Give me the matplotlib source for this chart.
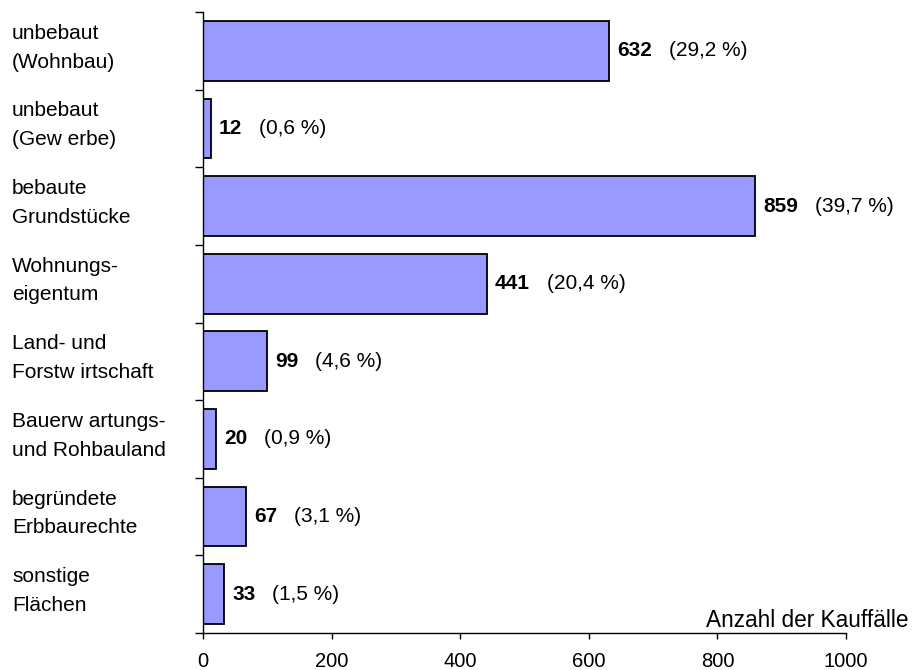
import matplotlib
matplotlib.use("Agg")
import matplotlib.pyplot as plt
import matplotlib.transforms as mtransforms

plt.rcParams['font.family'] = ['Liberation Sans', 'DejaVu Sans']

categories = ["unbebaut\n(Wohnbau)", "unbebaut\n(Gew erbe)", "bebaute\nGrundstücke",
              "Wohnungs-\neigentum", "Land- und\nForstw irtschaft", "Bauerw artungs-\nund Rohbauland",
              "begründete\nErbbaurechte", "sonstige\nFlächen"]
values = [632, 12, 859, 441, 99, 20, 67, 33]
percent_labels = ["(29,2 %)", "(0,6 %)", "(39,7 %)", "(20,4 %)", "(4,6 %)", "(0,9 %)", "(3,1 %)", "(1,5 %)"]
xticks = [0, 200, 400, 600, 800, 1000]

fig = plt.figure(figsize=(9.13, 6.7), dpi=100)
ax = fig.add_axes([203/913, 1-633/670, (846-203)/913, (633-12)/670])

n = len(categories)
ypos = list(range(n))
ax.barh(ypos, values, height=0.77, color="#9999FF", edgecolor="black", linewidth=1.3)
ax.set_ylim(n - 0.5, -0.5)
ax.set_xlim(0, 1000)
ax.set_xticks(xticks)
ax.set_xticklabels([str(t) for t in xticks], fontsize=14.5)
ax.set_yticks([i - 0.5 for i in range(n + 1)])
ax.set_yticklabels([])
ax.tick_params(axis='y', length=6, width=1, direction='out')
ax.tick_params(axis='x', length=4, width=1, direction='out', pad=10)
for s in ['top', 'right']:
    ax.spines[s].set_visible(False)
for s in ['left', 'bottom']:
    ax.spines[s].set_linewidth(1)

trans = mtransforms.blended_transform_factory(fig.transFigure, ax.transData)
for i, lab in enumerate(categories):
    ax.text(12/913, i - 0.04, lab, transform=trans, ha='left', va='center', fontsize=15,
            linespacing=1.65)

for i, (v, p) in enumerate(zip(values, percent_labels)):
    t1 = ax.annotate(str(v), (v, i), xytext=(6, 0), textcoords='offset points',
                     ha='left', va='center', fontsize=15, fontweight='bold')
    ax.annotate(p, xy=(1, 0.5), xycoords=t1, xytext=(12, 0), textcoords='offset points',
                ha='left', va='center', fontsize=15)

fig.text(908/913, 1-627/670, "Anzahl der Kauffälle", ha='right', va='baseline', fontsize=16.3)

fig.savefig("out.png", dpi=100)
